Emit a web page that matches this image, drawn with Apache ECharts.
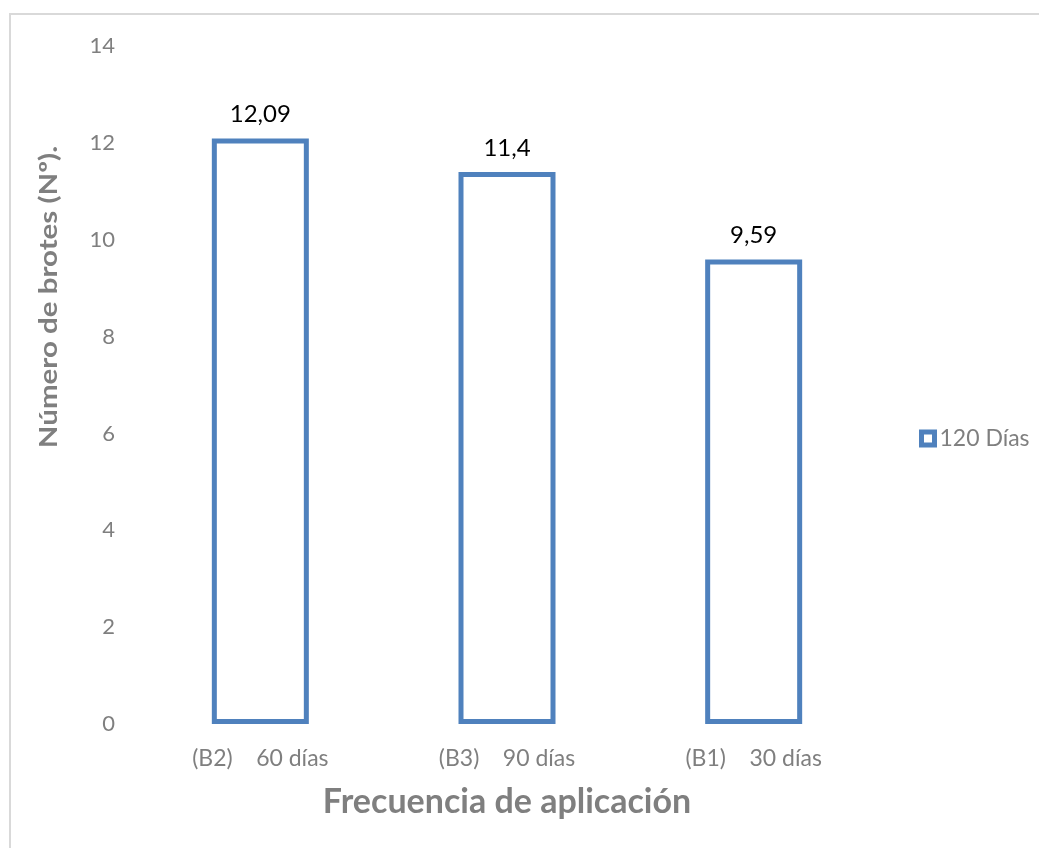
<!DOCTYPE html>
<html>
<head>
<meta charset="utf-8">
<script src="https://cdn.jsdelivr.net/npm/echarts@6/dist/echarts.min.js"></script>
<style>
html,body{margin:0;padding:0;background:#fff;}
#chart{width:1039px;height:848px;}
</style>
</head>
<body>
<div id="chart"></div>
<script>
const categories = ['(B2)    60 días', '(B3)    90 días', '(B1)    30 días'];
const values120 = [12.09, 11.4, 9.59];
const valueLabels = ['12,09', '11,4', '9,59'];
const seriesName = '120 Días';
const yTitle = 'Número de brotes (Nº).';
const xTitle = 'Frecuencia de aplicación';

const FONT = 'Lato, "Open Sans", sans-serif';
const GRAY = '#7f7f7f';
const BLUE = '#4F81BD';

const chart = echarts.init(document.getElementById('chart'));
chart.setOption({
  animation: false,
  textStyle: { fontFamily: FONT },
  grid: { left: 137, right: 162, top: 46, bottom: 124, containLabel: false },
  graphic: [
    { type: 'rect', silent: true, z: -1,
      shape: { x: 10, y: 14, width: 1200, height: 1000 },
      style: { fill: 'none', stroke: '#d9d9d9', lineWidth: 2 } },
    { type: 'text', x: 49, y: 297, rotation: Math.PI / 2, scaleX: 1.18, scaleY: 1,
      style: { text: yTitle, fontFamily: FONT, fontWeight: 'bold', fontSize: 25,
               fill: GRAY, align: 'center', verticalAlign: 'middle' } }
  ],
  legend: {
    data: [seriesName],
    left: 919, top: 427,
    padding: 0,
    orient: 'vertical',
    itemWidth: 13, itemHeight: 13, itemGap: 6,
    icon: 'rect',
    itemStyle: { color: '#fff', borderColor: BLUE, borderWidth: 5 },
    textStyle: { color: GRAY, fontSize: 23, fontFamily: FONT }
  },
  xAxis: {
    type: 'category',
    data: categories,
    name: xTitle,
    nameLocation: 'middle',
    nameGap: 61,
    nameTextStyle: { color: GRAY, fontSize: 34, fontWeight: 'bold', fontFamily: FONT },
    axisLine: { show: false },
    axisTick: { show: false },
    axisLabel: { color: GRAY, fontSize: 23, margin: 23, fontFamily: FONT }
  },
  yAxis: {
    type: 'value',
    min: 0, max: 14, interval: 2,
    axisLine: { show: false },
    axisTick: { show: false },
    splitLine: { show: false },
    axisLabel: { color: GRAY, fontSize: 22, margin: 22, fontFamily: FONT }
  },
  series: [{
    name: seriesName,
    type: 'bar',
    data: values120,
    barWidth: 97,
    itemStyle: { color: '#fff', borderColor: BLUE, borderWidth: 5 },
    label: {
      show: true, position: 'top', distance: 12,
      color: '#000', fontSize: 24, fontFamily: FONT,
      formatter: p => valueLabels[p.dataIndex]
    }
  }]
});
</script>
</body>
</html>
